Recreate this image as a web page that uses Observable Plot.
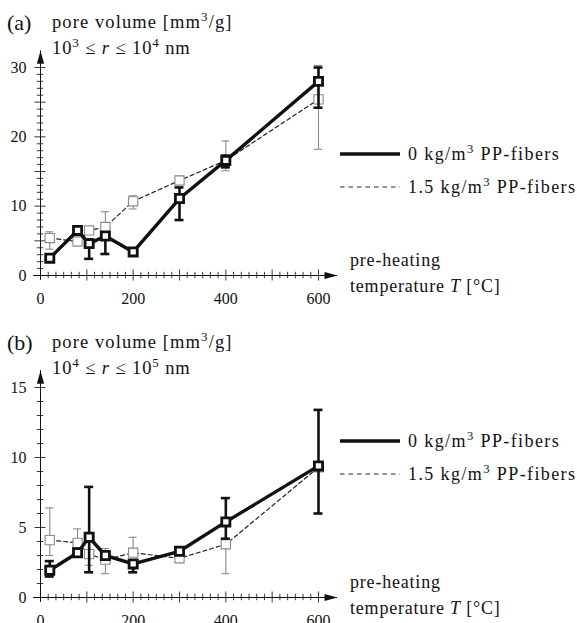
<!DOCTYPE html>
<html><head><meta charset="utf-8">
<script src="https://cdn.jsdelivr.net/npm/d3@7"></script>
<script src="https://cdn.jsdelivr.net/npm/@observablehq/plot@0.6"></script>
<style>
body{margin:0;background:#fff;}
#chart svg{display:block;overflow:visible;}
#chart svg text{font-family:"Liberation Serif","DejaVu Serif","Times New Roman",serif;}
</style></head><body><div id="chart"></div>
<script>
// pre-heating temperatures [°C]
const temps = [20, 80, 105, 140, 200, 300, 400, 600];

// panel (a): 10^3 <= r <= 10^4 nm
const aSolid     = [2.5, 6.5, 4.6, 5.7, 3.4, 11.1, 16.6, 28.0];
const aSolidLo   = [null, null, 2.4, 3.1, null, 8.0, 15.6, 24.2];
const aSolidHi   = [null, null, 5.2, null, null, 12.7, 17.3, 30.0];
const aDashed    = [5.4, 4.9, 6.5, 7.0, 10.7, 13.7, 16.6, 25.4];
const aDashedLo  = [3.8, null, null, null, 9.6, 13.2, 15.1, 18.2];
const aDashedHi  = [6.3, null, null, 9.2, 11.5, 14.3, 19.4, 30.3];

// panel (b): 10^4 <= r <= 10^5 nm
const bSolid     = [1.95, 3.2, 4.3, 3.0, 2.4, 3.3, 5.4, 9.4];
const bSolidLo   = [1.5, null, 1.8, null, 1.8, null, 4.2, 6.0];
const bSolidHi   = [2.6, null, 7.9, null, null, null, 7.1, 13.4];
const bDashed    = [4.1, 3.9, 3.1, 2.7, 3.2, 2.8, 3.8, 9.3];
const bDashedLo  = [3.0, null, 2.3, 1.7, null, null, 1.7, null];
const bDashedHi  = [6.4, 4.9, null, 3.5, 4.3, null, null, null];

// tick labels
const xTickLabels = [0, 200, 400, 600];
const aYTickLabels = [0, 10, 20, 30];
const bYTickLabels = [0, 5, 10, 15];

const FONT = '"Liberation Serif","DejaVu Serif",serif';
const xMinor = d3.range(0, 37).map(i => i * 100 / 6);

function rows(v, lo, hi) {
  return temps.map((t, i) => ({t, v: v[i], lo: lo[i], hi: hi[i]}));
}

const arrowSymbol = {
  draw(ctx) {
    ctx.moveTo(0, 0);
    ctx.lineTo(3.6, 13);
    ctx.lineTo(-3.6, 13);
    ctx.closePath();
  }
};

function seriesMarks(data, s) {
  const withErr = data.filter(d => d.lo != null || d.hi != null);
  return [
    Plot.ruleX(withErr, {x: "t", y1: d => d.lo ?? d.v, y2: d => d.hi ?? d.v, stroke: s.errColor, strokeWidth: s.errWidth}),
    Plot.ruleY(data.filter(d => d.lo != null), {y: "lo", x1: "t", x2: "t", insetLeft: -s.cap, insetRight: -s.cap, stroke: s.errColor, strokeWidth: s.errWidth}),
    Plot.ruleY(data.filter(d => d.hi != null), {y: "hi", x1: "t", x2: "t", insetLeft: -s.cap, insetRight: -s.cap, stroke: s.errColor, strokeWidth: s.errWidth}),
    Plot.line(data, {x: "t", y: "v", stroke: s.lineColor, strokeWidth: s.lineWidth, strokeDasharray: s.dash}),
    Plot.dot(data, {x: "t", y: "v", symbol: "square", r: s.r, fill: "white", stroke: s.symColor, strokeWidth: s.symWidth})
  ];
}

const solidStyle = {errColor: "#111", errWidth: 2.6, cap: 4.5, lineColor: "#111", lineWidth: 3.4, dash: null, r: 4.6, symColor: "#111", symWidth: 2.8};
const dashedStyle = {errColor: "#8a8a8a", errWidth: 1.1, cap: 4, lineColor: "#222", lineWidth: 1.2, dash: "4,3", r: 5.2, symColor: "#8a8a8a", symWidth: 1.1};

function panel(cfg) {
  const yMinor = d3.range(0, cfg.yMax + 1);
  const chart = Plot.plot({
    width: 577,
    height: cfg.height,
    marginLeft: 40,
    marginRight: 259,
    marginTop: 67,
    marginBottom: cfg.marginBottom,
    style: {fontFamily: FONT, fontSize: "16px", overflow: "visible", background: "white", color: "#111"},
    x: {domain: [0, 600]},
    y: {domain: [0, cfg.yMax]},
    marks: [
      // axis lines
      Plot.ruleY([0], {x1: cfg.xStart, x2: cfg.xEnd, stroke: "#111", strokeWidth: 1}),
      Plot.ruleX([0], {y1: cfg.yStart, y2: cfg.yEnd, stroke: "#111", strokeWidth: 1}),
      Plot.dot([0], {x: cfg.xEnd, y: 0, symbol: arrowSymbol, rotate: 90, fill: "#111", stroke: "none"}),
      Plot.dot([0], {x: 0, y: cfg.yEnd, symbol: arrowSymbol, fill: "#111", stroke: "none"}),
      // ticks
      Plot.ruleX(xMinor.filter((d, i) => i % 6 !== 0), {x: d => d, y1: 0, y2: 0, insetTop: -3.2, insetBottom: -3.2, stroke: "#222", strokeWidth: 0.9}),
      Plot.ruleX(xMinor.filter((d, i) => i % 6 === 0 && i > 0), {x: d => d, y1: 0, y2: 0, insetTop: -5.5, insetBottom: -5.5, stroke: "#222", strokeWidth: 0.9}),
      Plot.ruleY(yMinor.filter(d => d % 5 !== 0), {y: d => d, x1: 0, x2: 0, insetLeft: -3.2, insetRight: -3.2, stroke: "#222", strokeWidth: 0.9}),
      Plot.ruleY(yMinor.filter(d => d % 5 === 0 && d > 0), {y: d => d, x1: 0, x2: 0, insetLeft: -5.5, insetRight: -5.5, stroke: "#222", strokeWidth: 0.9}),
      Plot.axisX({ticks: xTickLabels, tickSize: 0, tickPadding: 17, tickFormat: d => String(d), label: null}),
      Plot.axisY({ticks: cfg.yTicks, tickSize: 0, tickPadding: 14, tickFormat: d => String(d), label: null}),
      ...seriesMarks(cfg.dashed, dashedStyle),
      ...seriesMarks(cfg.solid, solidStyle)
    ]
  });
  const svg = d3.select(chart);
  const g = svg.append("g").attr("fill", "#111").attr("text-anchor", "start");
  function rich(x, y, parts, size, extra = {}) {
    const t = g.append("text").attr("x", x).attr("y", y).attr("font-size", size).attr("text-anchor", "start");
    for (const k in extra) t.attr(k, extra[k]);
    let shift = 0;
    for (const p of parts) {
      const s = t.append("tspan").text(p.t);
      if (p.sup) { s.attr("font-size", size * 0.7).attr("dy", -size * 0.38); shift = size * 0.38; }
      else if (shift) { s.attr("dy", shift); shift = 0; }
      if (p.it) s.attr("font-style", "italic");
    }
    return t;
  }
  rich(7, 30, [{t: cfg.tag}], 22);
  rich(52, 28, [{t: "pore volume [mm"}, {t: "3", sup: true}, {t: "/g]"}], 18.5, {"letter-spacing": 1.1});
  rich(52, 54, cfg.range, 18.5, {"letter-spacing": 0.9});
  rich(350, cfg.axisY - 9, [{t: "pre-heating"}], 18, {"letter-spacing": 0.8});
  rich(350, cfg.axisY + 17, [{t: "temperature "}, {t: "T", it: true}, {t: " [°C]"}], 18, {"letter-spacing": 0.8});
  // legend
  g.append("line").attr("x1", 340).attr("x2", 400).attr("y1", cfg.legY[0]).attr("y2", cfg.legY[0])
    .attr("stroke", "#111").attr("stroke-width", 3.4);
  g.append("line").attr("x1", 340).attr("x2", 400).attr("y1", cfg.legY[1]).attr("y2", cfg.legY[1])
    .attr("stroke", "#222").attr("stroke-width", 1.2).attr("stroke-dasharray", "4.5,4");
  rich(408, cfg.legY[0] + 6, [{t: "0 kg/m"}, {t: "3", sup: true}, {t: " PP-fibers"}], 18, {"letter-spacing": 1.4});
  rich(408, cfg.legY[1] + 6, [{t: "1.5 kg/m"}, {t: "3", sup: true}, {t: " PP-fibers"}], 18, {"letter-spacing": 1.4});
  return chart;
}

const root = document.getElementById("chart");
root.appendChild(panel({
  tag: "(a)", height: 310, marginBottom: 35, yMax: 30, yTicks: aYTickLabels,
  xStart: -15, xEnd: 641, yStart: -0.7, yEnd: 32.4, axisY: 275,
  legY: [154, 187],
  range: [{t: "10"}, {t: "3", sup: true}, {t: " ≤ "}, {t: "r", it: true}, {t: " ≤ 10"}, {t: "4", sup: true}, {t: " nm"}],
  solid: rows(aSolid, aSolidLo, aSolidHi), dashed: rows(aDashed, aDashedLo, aDashedHi)
}));
const spacer = document.createElement("div"); spacer.style.height = "10px"; root.appendChild(spacer);
root.appendChild(panel({
  tag: "(b)", height: 303, marginBottom: 26, yMax: 15, yTicks: bYTickLabels,
  xStart: -15, xEnd: 641, yStart: -0.35, yEnd: 16.2, axisY: 277,
  legY: [121, 154],
  range: [{t: "10"}, {t: "4", sup: true}, {t: " ≤ "}, {t: "r", it: true}, {t: " ≤ 10"}, {t: "5", sup: true}, {t: " nm"}],
  solid: rows(bSolid, bSolidLo, bSolidHi), dashed: rows(bDashed, bDashedLo, bDashedHi)
}));
</script></body></html>
